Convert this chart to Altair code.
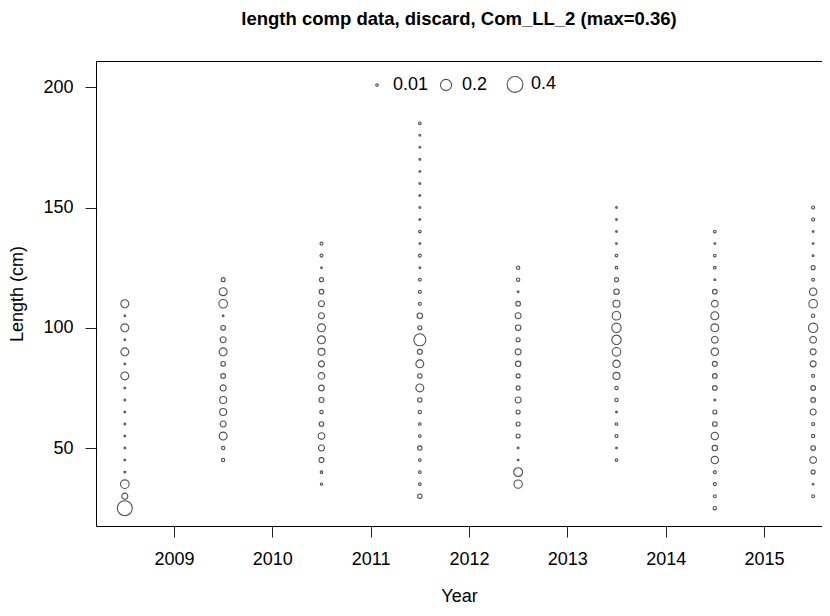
import altair as alt
import pandas as pd

# ---- data (proportion at length bin, by year) ----
years = [2008.5, 2009.5, 2010.5, 2011.5, 2012.5, 2013.5, 2014.5, 2015.5]

len_2008 = [25, 30, 35, 40, 45, 50, 55, 60, 65, 70, 75, 80, 85, 90, 95, 100, 105, 110]
val_2008 = [0.36, 0.058, 0.118, 0.005, 0.005, 0.005, 0.005, 0.005, 0.005, 0.005, 0.005,
            0.10, 0.005, 0.10, 0.005, 0.10, 0.005, 0.10]

len_2009 = [45, 50, 55, 60, 65, 70, 75, 80, 85, 90, 95, 100, 105, 110, 115, 120]
val_2009 = [0.018, 0.018, 0.10, 0.058, 0.078, 0.078, 0.058, 0.034, 0.034, 0.10, 0.058,
            0.034, 0.005, 0.118, 0.10, 0.026]

len_2010 = [35, 40, 45, 50, 55, 60, 65, 70, 75, 80, 85, 90, 95, 100, 105, 110, 115, 120,
            125, 130, 135]
val_2010 = [0.008, 0.01, 0.04, 0.058, 0.07, 0.034, 0.018, 0.04, 0.05, 0.07, 0.058, 0.078,
            0.10, 0.10, 0.058, 0.058, 0.034, 0.026, 0.005, 0.014, 0.014]

len_2011 = [30, 35, 40, 45, 50, 55, 60, 65, 70, 75, 80, 85, 90, 95, 100, 105, 110, 115,
            120, 125, 130, 135, 140, 145, 150, 155, 160, 165, 170, 175, 180, 185]
val_2011 = [0.031, 0.011, 0.011, 0.011, 0.031, 0.011, 0.011, 0.018, 0.031, 0.10, 0.031,
            0.10, 0.04, 0.23, 0.026, 0.047, 0.014, 0.014, 0.014, 0.005, 0.014, 0.005,
            0.011, 0.005, 0.005, 0.005, 0.005, 0.005, 0.005, 0.005, 0.005, 0.011]

len_2012 = [35, 40, 45, 50, 55, 60, 65, 70, 75, 80, 85, 90, 95, 100, 105, 110, 115, 120, 125]
val_2012 = [0.11, 0.125, 0.005, 0.005, 0.026, 0.026, 0.026, 0.058, 0.026, 0.026, 0.047,
            0.058, 0.026, 0.047, 0.058, 0.034, 0.005, 0.018, 0.018]

len_2013 = [45, 50, 55, 60, 65, 70, 75, 80, 85, 90, 95, 100, 105, 110, 115, 120, 125, 130,
            135, 140, 145, 150]
val_2013 = [0.011, 0.005, 0.014, 0.011, 0.005, 0.018, 0.018, 0.078, 0.088, 0.118, 0.141,
            0.141, 0.118, 0.078, 0.047, 0.026, 0.011, 0.011, 0.005, 0.005, 0.005, 0.005]

len_2014 = [25, 30, 35, 40, 45, 50, 55, 60, 65, 70, 75, 80, 85, 90, 95, 100, 105, 110, 115,
            120, 125, 130, 135, 140]
val_2014 = [0.018, 0.014, 0.014, 0.014, 0.088, 0.047, 0.088, 0.034, 0.026, 0.005, 0.034,
            0.034, 0.04, 0.088, 0.07, 0.10, 0.10, 0.07, 0.034, 0.005, 0.011, 0.011, 0.005,
            0.011]

len_2015 = [30, 35, 40, 45, 50, 55, 60, 65, 70, 75, 80, 85, 90, 95, 100, 105, 110, 115,
            120, 125, 130, 135, 140, 145, 150]
val_2015 = [0.014, 0.005, 0.026, 0.07, 0.034, 0.018, 0.014, 0.058, 0.034, 0.034, 0.014,
            0.058, 0.058, 0.07, 0.141, 0.018, 0.118, 0.088, 0.014, 0.026, 0.005, 0.005,
            0.005, 0.014, 0.014]

x_ticks = [2009, 2010, 2011, 2012, 2013, 2014, 2015]
y_ticks = [50, 100, 150, 200]
legend_values = [0.01, 0.2, 0.4]

lengths = [len_2008, len_2009, len_2010, len_2011, len_2012, len_2013, len_2014, len_2015]
values = [val_2008, val_2009, val_2010, val_2011, val_2012, val_2013, val_2014, val_2015]

rows = []
for yr, ls, vs in zip(years, lengths, values):
    for l, v in zip(ls, vs):
        rows.append({"Year": yr, "Length": l, "Prop": v})
df = pd.DataFrame(rows)

FONT = "Liberation Sans"

chart = alt.Chart(df).mark_point(
    shape="circle", filled=False, color="#505050", strokeWidth=1.1, opacity=1
).encode(
    x=alt.X("Year:Q",
            scale=alt.Scale(domain=[2008.207, 2015.59], nice=False, zero=False),
            axis=alt.Axis(values=x_ticks, format="d", title="Year", grid=False,
                          domain=False, tickSize=11, tickColor="#222222",
                          labelPadding=13, titlePadding=19)),
    y=alt.Y("Length:Q",
            scale=alt.Scale(domain=[17.6, 210.9], nice=False, zero=False),
            axis=alt.Axis(values=y_ticks, title="Length (cm)", grid=False,
                          domain=False, tickSize=11, tickColor="#222222",
                          labelPadding=12, titlePadding=16)),
    size=alt.Size("Prop:Q",
                  scale=alt.Scale(domain=[0, 0.4], range=[0, 250], zero=True),
                  legend=alt.Legend(values=legend_values, title=None, orient="none",
                                    format=".2~f",
                                    direction="horizontal", legendX=272, legendY=14,
                                    labelFontSize=18, labelFont=FONT, labelColor="black",
                                    labelOffset=7, columnPadding=6, gridAlign="all",
                                    padding=0, symbolStrokeColor="#505050",
                                    symbolStrokeWidth=1.1, symbolFillColor="transparent")),
).properties(
    width=726,
    height=465,
    title=alt.TitleParams("length comp data, discard, Com_LL_2 (max=0.36)",
                          font=FONT, fontSize=18.5, fontWeight="bold", color="black",
                          anchor="middle", offset=33),
    autosize=alt.AutoSizeParams(type="none"),
    padding={"left": 88, "top": 53, "right": 0, "bottom": 82},
    background="white",
).configure_view(
    stroke="black", strokeWidth=1
).configure_axis(
    labelFont=FONT, labelFontSize=18, labelColor="black",
    titleFont=FONT, titleFontSize=18, titleColor="black", titleFontWeight="normal",
    labelAngle=0
)

chart.save("out.html", embed_options={"renderer": "svg", "actions": False})
